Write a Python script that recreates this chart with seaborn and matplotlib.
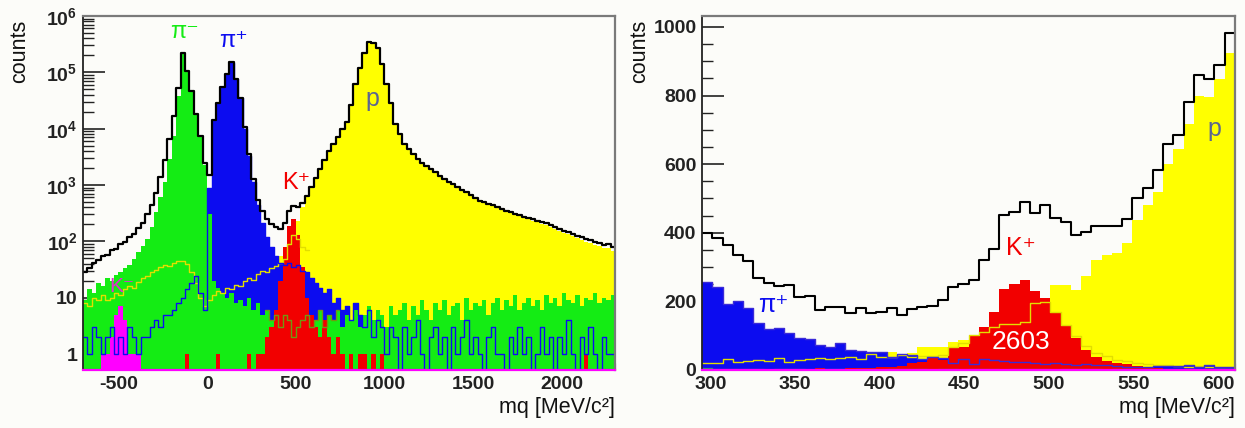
import numpy as np
import pandas as pd
import matplotlib
matplotlib.use("Agg")
import matplotlib.pyplot as plt
import seaborn as sns
from matplotlib.ticker import LogLocator, MultipleLocator, NullFormatter

# ---------------- full mass-squared spectrum: 25 MeV/c^2 bins, -700 ... 2300 ----------------
FULL_RANGE = (-700, 2300)
FULL_BIN = 25

full_total = [
    29, 33, 41, 46, 55, 58, 69, 74, 88, 98,
    118, 133, 172, 215, 300, 450, 730, 1400, 2800, 6500,
    16500, 52000, 220000, 107000, 46000, 18500, 7400, 2500, 1500, 14000,
    28000, 54000, 93000, 150000, 76000, 35000, 10700, 3550, 1260, 550,
    340, 250, 200, 178, 165, 209, 340, 425, 400, 470,
    630, 930, 1350, 1950, 2750, 4000, 5400, 7200, 9700, 13000,
    26000, 62000, 120000, 220000, 340000, 330000, 270000, 140000, 63000, 28000,
    12000, 7900, 5400, 4300, 3550, 2950, 2500, 2200, 1900, 1670,
    1470, 1290, 1150, 1030, 920, 830, 740, 660, 590, 530,
    500, 465, 435, 405, 375, 350, 325, 305, 290, 275,
    258, 245, 230, 218, 209, 195, 180, 167, 155, 145,
    137, 124, 119, 108, 106, 97, 95, 86, 88, 78,
]
full_p = [
    0, 0, 0, 0, 0, 0, 0, 0, 0, 0,
    0, 0, 0, 0, 0, 0, 0, 0, 0, 0,
    0, 0, 0, 0, 0, 0, 0, 0, 0, 0,
    0, 0, 0, 0, 0, 0, 5, 8, 12, 16,
    20, 26, 32, 42, 55, 68, 95, 150, 230, 400,
    600, 900, 1320, 1920, 2720, 3960, 5350, 7150, 9650, 12950,
    25900, 61900, 119900, 219900, 339900, 329900, 269900, 139900, 62900, 27900,
    11950, 7870, 5380, 4280, 3530, 2930, 2480, 2180, 1880, 1650,
    1450, 1270, 1130, 1010, 900, 812, 722, 643, 575, 515,
    485, 450, 420, 390, 362, 336, 312, 292, 276, 262,
    245, 232, 218, 205, 196, 182, 168, 155, 143, 133,
    124, 114, 107, 97, 94, 87, 84, 76, 76, 67,
]
full_pi_plus = [
    2, 1, 3, 2, 1, 2, 3, 1, 2, 1,
    3, 2, 1, 2, 2, 3, 4, 3, 5, 5,
    6, 8, 10, 14, 18, 24, 12, 6, 900, 13500,
    27500, 53500, 92500, 149000, 75500, 34500, 10000, 3300, 1150, 440,
    210, 120, 80, 55, 42, 38, 42, 35, 38, 30,
    28, 22, 18, 15, 12, 14, 8, 10, 6, 7,
    4, 8, 5, 3, 6, 2, 4, 3, 1, 3,
    2, 0, 3, 1, 2, 4, 1, 0, 2, 3,
    1, 2, 0, 3, 1, 2, 4, 1, 2, 1,
    0, 2, 3, 1, 1, 0, 2, 1, 3, 1,
    2, 0, 1, 3, 1, 2, 0, 2, 1, 4,
    1, 0, 2, 1, 3, 1, 0, 2, 1, 1,
]
full_pi_minus = [
    9, 14, 12, 18, 16, 22, 20, 25, 28, 33,
    38, 48, 65, 82, 110, 180, 330, 620, 1150, 2900,
    7500, 38000, 215000, 105000, 45000, 18000, 7200, 2300, 300, 20,
    15, 12, 10, 12, 8, 9, 7, 10, 6, 8,
    5, 6, 4, 5, 3, 5, 4, 2, 3, 4,
    5, 3, 4, 6, 3, 5, 4, 6, 3, 5,
    4, 6, 3, 5, 7, 4, 6, 5, 3, 7,
    5, 6, 8, 4, 7, 5, 9, 6, 4, 8,
    6, 9, 5, 7, 8, 4, 10, 6, 8, 7,
    9, 5, 8, 10, 6, 9, 7, 11, 6, 8,
    10, 7, 9, 6, 11, 8, 10, 7, 12, 9,
    8, 11, 7, 10, 9, 12, 8, 10, 9, 11,
]
full_k_plus = [
    0, 0, 0, 0, 0, 0, 0, 0, 0, 0,
    0, 0, 0, 0, 0, 0, 0, 0, 0, 0,
    0, 0, 0, 1, 0, 0, 0, 0, 0, 0,
    1, 0, 0, 0, 0, 0, 0, 1, 0, 1,
    1, 2, 3, 6, 20, 80, 190, 246, 130, 35,
    10, 5, 3, 2, 4, 2, 1, 2, 1, 0,
    1, 0, 1, 1, 0, 1, 0, 1, 0, 0,
    0, 0, 0, 0, 0, 0, 0, 0, 0, 0,
    0, 0, 0, 0, 0, 0, 0, 0, 0, 0,
    0, 0, 0, 0, 0, 0, 0, 0, 0, 0,
    0, 0, 0, 0, 0, 0, 0, 0, 0, 0,
    0, 0, 0, 1, 0, 0, 0, 0, 0, 0,
]
full_k_minus = [
    0, 0, 0, 0, 1, 1, 2, 5, 7, 4,
    1, 1, 1, 0, 0, 0, 0, 0, 0, 0,
] + [0] * 100
# unidentified tracks (thin yellow line), first 51 bins
full_other = [
    8, 7, 10, 9, 11, 9, 10, 12, 11, 14,
    16, 15, 19, 22, 24, 28, 31, 35, 38, 36,
    42, 45, 44, 40, 28, 18, 10, 7, 9, 11,
    13, 12, 15, 14, 17, 16, 20, 22, 21, 26,
    30, 29, 33, 36, 42, 48, 90, 130, 110, 80,
    70,
]

# ---------------- K+ window: 52 bins, 295 ... 610 ----------------
ZOOM_RANGE = (295, 610)
ZOOM_NBINS = 52

zoom_total = [
    399, 384, 364, 335, 317, 268, 253, 245, 247, 212,
    215, 175, 183, 183, 166, 180, 166, 169, 180, 160,
    177, 183, 187, 204, 241, 252, 262, 320, 352, 451,
    460, 490, 458, 482, 442, 431, 393, 402, 419, 419,
    420, 440, 500, 530, 582, 660, 684, 780, 859, 849,
    890, 983,
]
zoom_p = [
    8, 12, 10, 15, 14, 18, 20, 17, 22, 25,
    24, 28, 30, 27, 33, 35, 38, 42, 53, 45,
    50, 68, 68, 68, 82, 87, 102, 110, 125, 140,
    150, 165, 180, 195, 247, 247, 233, 274, 322, 335,
    340, 369, 437, 480, 519, 602, 645, 718, 800, 795,
    847, 925,
]
zoom_pi_plus = [
    257, 241, 191, 202, 180, 136, 119, 121, 107, 94,
    90, 73, 68, 78, 58, 56, 53, 53, 39, 47,
    44, 31, 39, 35, 20, 33, 18, 32, 28, 26,
    24, 22, 20, 18, 20, 17, 16, 18, 14, 14,
    12, 10, 10, 8, 12, 12, 12, 16, 10, 16,
    10, 10,
]
zoom_k_plus = [
    0, 0, 0, 0, 2, 3, 2, 4, 3, 3,
    4, 5, 3, 4, 5, 6, 5, 8, 10, 12,
    20, 23, 38, 30, 68, 68, 99, 126, 170, 235,
    252, 262, 231, 209, 170, 128, 92, 58, 39, 26,
    19, 18, 12, 10, 5, 4, 3, 3, 2, 2,
    1, 2,
]
zoom_other = [
    19, 19, 31, 23, 25, 29, 27, 35, 23, 29,
    31, 35, 31, 35, 37, 31, 47, 39, 37, 43,
    39, 40, 42, 45, 68, 80, 102, 111, 126, 134,
    134, 140, 196, 198, 170, 130, 100, 70, 50, 40,
    30, 25, 20, 18, 15, 14, 12, 10, 12, 10,
    8, 10,
]
zoom_pi_minus = [
    5, 3, 2, 3, 2, 2, 1, 2, 3, 2,
    1, 2, 2, 3, 1, 2, 2, 1, 2, 2,
    3, 2, 1, 2, 2, 1, 3, 2, 2, 1,
    2, 3, 2, 2, 1, 2, 2, 3, 2, 1,
    2, 2, 1, 2, 3, 2, 2, 1, 3, 2,
    2, 1,
]
K_PLUS_YIELD = "2603"

# ---------------- style ----------------
C_P = "#ffff00"
C_PIP = "#0c0cf0"
C_PIM = "#14ec14"
C_KP = "#f20000"
C_KM = "#ff00ff"
C_OTHER = "#e2de00"
C_PLABEL = "#5b6591"
BG = "#fcfcf9"

sns.set_style("ticks")
plt.rcParams["font.family"] = ["Liberation Sans", "DejaVu Sans"]
plt.rcParams["mathtext.fontset"] = "custom"
plt.rcParams["mathtext.rm"] = "Liberation Sans"
plt.rcParams["mathtext.bf"] = "Liberation Sans:bold"
plt.rcParams["axes.unicode_minus"] = False

FONT = ["Liberation Sans", "DejaVu Sans"]


def draw_hist(ax, edges, values, color, fill, lw=1.0, z=1.0, first=0):
    """Binned histogram from per-bin counts, drawn as a filled or outlined step."""
    edges = np.asarray(edges, float)
    vals = np.asarray(values, float)
    n = len(vals)
    e = edges[first: first + n + 1]
    df = pd.DataFrame({"x": 0.5 * (e[:-1] + e[1:]), "w": vals})
    sns.histplot(data=df, x="x", weights="w", bins=n,
                 binrange=(float(e[0]), float(e[-1])),
                 element="step", fill=fill, color=color, alpha=1.0,
                 linewidth=(0 if fill else lw), ax=ax, zorder=z)


fig = plt.figure(figsize=(12.45, 4.28), dpi=100)
fig.patch.set_facecolor(BG)
W, H = 1245.0, 428.0
ax_l = fig.add_axes([83 / W, 1 - 370 / H, 532 / W, 354 / H])
ax_r = fig.add_axes([702 / W, 1 - 370 / H, 533 / W, 354 / H])

# ---------------- left: full spectrum, log scale ----------------
edges_full = np.arange(FULL_RANGE[0], FULL_RANGE[1] + FULL_BIN, FULL_BIN)
ax_l.set_yscale("log")
draw_hist(ax_l, edges_full, full_p, C_P, True, z=1.0)
draw_hist(ax_l, edges_full, full_pi_plus, C_PIP, True, z=1.1)
draw_hist(ax_l, edges_full, full_pi_minus, C_PIM, True, z=1.2)
draw_hist(ax_l, edges_full, full_k_plus, C_KP, True, z=1.3)
draw_hist(ax_l, edges_full, full_k_minus, C_KM, True, z=1.4)
# pi- outline where it sits on top of the K+ peak
idx = np.flatnonzero(np.asarray(full_k_plus) >= 2)
lo, hi = int(idx.min()), int(idx.max()) + 1
draw_hist(ax_l, edges_full, full_pi_minus[lo:hi], "#6f9a10", False, lw=1.0, z=1.5, first=lo)
draw_hist(ax_l, edges_full, full_other, C_OTHER, False, lw=1.0, z=1.6)
draw_hist(ax_l, edges_full, full_pi_plus, C_PIP, False, lw=1.0, z=1.7)
draw_hist(ax_l, edges_full, full_total, "black", False, lw=1.6, z=2.0)

ax_l.set_xlim(*FULL_RANGE)
ax_l.set_ylim(0.52, 1e6)

# ---------------- right: K+ window, linear scale ----------------
edges_zoom = np.linspace(ZOOM_RANGE[0], ZOOM_RANGE[1], ZOOM_NBINS + 1)
draw_hist(ax_r, edges_zoom, zoom_p, C_P, True, z=1.0)
draw_hist(ax_r, edges_zoom, zoom_pi_plus, C_PIP, True, z=1.1)
draw_hist(ax_r, edges_zoom, zoom_k_plus, C_KP, True, z=1.2)
draw_hist(ax_r, edges_zoom, zoom_other, C_OTHER, False, lw=1.0, z=1.5)
draw_hist(ax_r, edges_zoom, zoom_pi_plus, "#3a2ad8", False, lw=1.0, z=1.6)
draw_hist(ax_r, edges_zoom, zoom_pi_minus, "#2f9a6a", False, lw=0.9, z=1.65)
draw_hist(ax_r, edges_zoom, zoom_total, "black", False, lw=1.5, z=2.0)

ax_r.set_xlim(*ZOOM_RANGE)
ax_r.set_ylim(0, 1032)

# ---------------- axes cosmetics ----------------
for ax in (ax_l, ax_r):
    ax.set_facecolor(BG)
    ax.set_xlabel("")
    ax.set_ylabel("")
    ax.set_axisbelow(True)
    for s in ("top", "right"):
        ax.spines[s].set_color("#7a7a7a")
        ax.spines[s].set_linewidth(1.6)
    ax.spines["left"].set_color("#222222")
    ax.spines["left"].set_linewidth(1.3)
    ax.spines["bottom"].set_color(C_KM)
    ax.spines["bottom"].set_linewidth(1.6)
    ax.tick_params(axis="both", which="both", direction="in",
                   top=False, right=False, colors="#222222", pad=4)
    ax.tick_params(axis="y", which="major", length=16, width=1.2)
    ax.tick_params(axis="y", which="minor", length=8, width=1.0)
    ax.tick_params(axis="x", which="major", length=10, width=1.0)
    ax.tick_params(axis="x", which="minor", length=5, width=0.8)

# left ticks
dec = [1, 10, 1e2, 1e3, 1e4, 1e5, 1e6]
dec_labels = ["1", "10"] + [r"$\mathbf{10^{%d}}$" % e for e in range(2, 7)]
ax_l.set_yticks(dec)
ax_l.set_yticklabels(dec_labels, fontsize=14, fontweight="bold")
ax_l.yaxis.set_minor_locator(LogLocator(base=10, subs=np.arange(2, 10)))
ax_l.yaxis.set_minor_formatter(NullFormatter())
xt_l = [-500, 0, 500, 1000, 1500, 2000]
ax_l.set_xticks(xt_l)
ax_l.set_xticklabels([str(v) for v in xt_l], fontsize=14, fontweight="bold")
ax_l.xaxis.set_minor_locator(MultipleLocator(100))

# right ticks
yt_r = [0, 200, 400, 600, 800, 1000]
ax_r.set_yticks(yt_r)
ax_r.set_yticklabels([str(v) for v in yt_r], fontsize=14, fontweight="bold")
ax_r.yaxis.set_minor_locator(MultipleLocator(50))
xt_r = [300, 350, 400, 450, 500, 550, 600]
ax_r.set_xticks(xt_r)
ax_r.set_xticklabels([str(v) for v in xt_r], fontsize=14, fontweight="bold")
ax_r.xaxis.set_minor_locator(MultipleLocator(10))

# axis titles (y at the top, x at the right)
for xc in (20, 640):
    fig.text(xc / W, 1 - 51 / H, "counts", rotation=90, ha="center", va="center",
             fontsize=15.5, family=FONT, color="#111111")
for xr in (615, 1235):
    fig.text(xr / W, 1 - 408 / H, "mq [MeV/c²]", ha="right", va="center",
             fontsize=15.5, family=FONT, color="#111111")

# particle labels, left panel
ax_l.text(-130, 5.2e5, "π⁻", color=C_PIM, fontsize=17, ha="center", va="center", family=FONT, zorder=5)
ax_l.text(146, 3.6e5, "π⁺", color=C_PIP, fontsize=17, ha="center", va="center", family=FONT, zorder=5)
ax_l.text(501, 1100, "K⁺", color=C_KP, fontsize=17, ha="center", va="center", family=FONT, zorder=5)
ax_l.text(930, 3.4e4, "p", color=C_PLABEL, fontsize=18, ha="center", va="center", family=FONT, zorder=5)
ax_l.text(-480, 16, "K⁻", color="#e030d0", fontsize=15, ha="center", va="center", family=FONT, zorder=5)

# particle labels, right panel
ax_r.text(337, 189, "π⁺", color=C_PIP, fontsize=18, ha="center", va="center", family=FONT, zorder=5)
ax_r.text(483.5, 355, "K⁺", color=C_KP, fontsize=18, ha="center", va="center", family=FONT, zorder=5)
ax_r.text(483.5, 82, K_PLUS_YIELD, color="white", fontsize=19, ha="center", va="center", family=FONT, zorder=5)
ax_r.text(598, 702, "p", color=C_PLABEL, fontsize=18, ha="center", va="center", family=FONT, zorder=5)

fig.savefig("out.png", dpi=100, facecolor=BG)
